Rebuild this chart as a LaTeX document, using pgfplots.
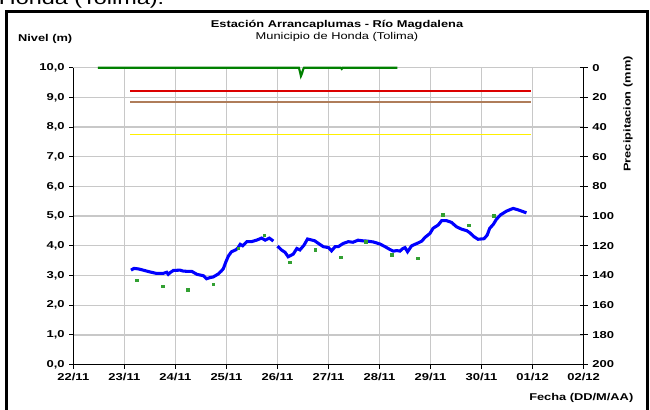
\documentclass[border=0pt]{standalone}
\usepackage{fontspec}
\setmainfont{Liberation Sans}[FakeStretch=1.3]
\usepackage{pgfplots}
\pgfplotsset{compat=1.18}
\definecolor{nivel}{RGB}{0,0,255}
\definecolor{lectura}{RGB}{50,160,50}
\definecolor{lluvia}{RGB}{0,128,0}
\definecolor{rojo}{RGB}{220,0,0}
\definecolor{cafe}{RGB}{175,125,90}
\definecolor{amarillo}{RGB}{255,240,0}
\definecolor{rejilla}{RGB}{200,200,200}

\pgfplotsset{
  base/.style={
    at={(55pt,34.1pt)}, anchor=south west,
    scale only axis, width=382.7pt, height=222.6pt,
    xmin=0, xmax=10,
    /pgf/number format/assume math mode=true,
    tick label style={font=\fontsize{7.5}{8.8}\selectfont\bfseries},
    axis line style={black, line width=0.9pt},
    major tick style={black, line width=0.8pt},
    clip=false,
  }
}

\begin{document}
\begin{tikzpicture}[font=\fontsize{7.4}{8.8}\selectfont]
\useasboundingbox (0,0) rectangle (487.5pt,307.5pt);
\node[anchor=base west, inner sep=0, font=\fontsize{13.5}{16}\selectfont] at (-1pt,303.75pt) {Honda (Tolima).};
\draw[line width=2.4pt] (4.9pt,-10pt) rectangle (485.6pt,298.9pt);

\begin{axis}[base,
    axis x line*=bottom, axis y line*=left,
    ymin=0, ymax=10,
    xtick={0,...,10},
    xticklabels={22/11,23/11,24/11,25/11,26/11,27/11,28/11,29/11,30/11,01/12,02/12},
    ytick={0,...,10},
    yticklabel style={/pgf/number format/.cd, fixed, fixed zerofill, precision=1, use comma},
    tick align=outside, major tick length=3pt,
    grid=major, grid style={rejilla, line width=1pt},
    unbounded coords=jump,
]
% umbrales
\addplot[rojo, line width=1.1pt] coordinates {(1.12,9.21) (8.97,9.21)};
\addplot[cafe, line width=1.1pt] coordinates {(1.12,8.85) (8.97,8.85)};
\addplot[amarillo, line width=1.1pt] coordinates {(1.12,7.75) (8.97,7.75)};
% nivel (m)
\addplot[nivel, line width=2.3pt] coordinates {
(1.13,3.18)(1.19,3.24)(1.28,3.22)(1.37,3.18)(1.50,3.12)(1.63,3.07)(1.76,3.07)
(1.83,3.11)(1.86,3.04)(1.90,3.10)(1.96,3.17)(2.09,3.18)(2.15,3.15)(2.22,3.14)
(2.32,3.14)(2.42,3.04)(2.50,3.01)(2.55,2.99)(2.61,2.89)(2.68,2.93)(2.74,2.95)
(2.84,3.05)(2.90,3.15)(2.94,3.23)(2.99,3.46)(3.04,3.66)(3.10,3.80)(3.19,3.87)
(3.23,3.94)(3.27,4.05)(3.32,4.00)(3.40,4.14)(3.49,4.14)(3.59,4.19)(3.69,4.26)
(3.76,4.19)(3.84,4.26)(3.92,4.16)(3.96,nan)
(4.00,3.99)(4.08,3.86)(4.15,3.78)(4.21,3.63)(4.31,3.72)(4.38,3.91)(4.44,3.86)
(4.52,4.02)(4.59,4.23)(4.66,4.20)(4.73,4.17)(4.82,4.06)(4.90,3.97)(5.00,3.94)
(5.06,3.83)(5.13,3.97)(5.19,3.97)(5.29,4.08)(5.39,4.14)(5.48,4.12)(5.58,4.19)
(5.66,4.17)(5.75,4.16)(5.88,4.13)(6.01,4.06)(6.11,3.97)(6.20,3.88)(6.27,3.82)
(6.34,3.84)(6.40,3.82)(6.45,3.90)(6.50,3.94)(6.55,3.80)(6.63,4.00)(6.76,4.10)
(6.83,4.16)(6.89,4.28)(6.99,4.42)(7.05,4.59)(7.15,4.70)(7.22,4.85)(7.31,4.85)
(7.41,4.79)(7.51,4.64)(7.61,4.56)(7.71,4.51)(7.77,4.44)(7.85,4.31)(7.93,4.22)
(8.05,4.24)(8.11,4.36)(8.16,4.59)(8.23,4.72)(8.29,4.89)(8.37,5.04)(8.49,5.17)
(8.62,5.26)(8.72,5.21)(8.88,5.11)};
% lecturas de mira
\addplot[only marks, mark=square*, mark size=0.95pt, lectura] coordinates {
(1.24,2.84)(1.75,2.63)(2.24,2.51)(2.74,2.70)(3.23,3.91)(3.74,4.35)(4.24,3.45)
(4.74,3.87)(5.24,3.61)(5.73,4.14)(6.24,3.69)(6.75,3.58)(7.24,5.04)(7.75,4.69)
(8.24,5.01)};
\end{axis}

\begin{axis}[base,
    axis x line=none, axis y line*=right,
    ymin=0, ymax=200, y dir=reverse,
    ytick={0,20,...,200},
    tick align=center, major tick length=6pt,
]
\addplot[lluvia, line width=1.6pt] coordinates {
(0.48,0)(4.42,0)(4.44,2.5)(4.46,5.6)(4.48,4.0)(4.50,1.5)(4.52,0)
(5.24,0)(5.26,0.8)(5.28,0)(6.35,0)};
\end{axis}

\node[font=\fontsize{7.4}{8.8}\selectfont\bfseries] at (252.75pt,288.75pt) {Estación Arrancaplumas - Río Magdalena};
\node at (252.75pt,279.75pt) {Municipio de Honda (Tolima)};
\node[anchor=west, font=\fontsize{7.4}{8.8}\selectfont\bfseries] at (10pt,278.25pt) {Nivel (m)};
\node[rotate=90, font=\fontsize{7.4}{8.8}\selectfont\bfseries] at (471pt,222pt) {Precipitacion (mm)};
\node[anchor=east, font=\fontsize{7.4}{8.8}\selectfont\bfseries] at (478.5pt,9pt) {Fecha (DD/M/AA)};
\end{tikzpicture}
\end{document}
